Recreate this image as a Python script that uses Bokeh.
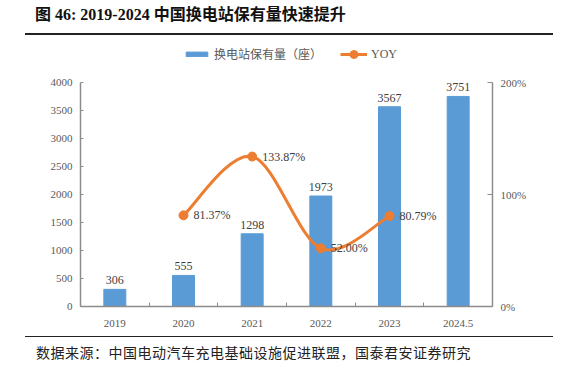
from bokeh.plotting import figure
from bokeh.models import (Range1d, LinearAxis, FixedTicker, Legend, LegendItem, Div)
from bokeh.layouts import column
from bokeh.core.properties import value
from bokeh.embed import file_html
from bokeh.resources import INLINE

categories = ["2019", "2020", "2021", "2022", "2023", "2024.5"]
stations = [306, 555, 1298, 1973, 3567, 3751]
yoy_years = ["2020", "2021", "2022", "2023"]
yoy = [81.37, 133.87, 52.00, 80.79]
left_ticks = [0, 500, 1000, 1500, 2000, 2500, 3000, 3500, 4000]
right_ticks = [0, 100, 200]
title_text = "图 46: 2019-2024 中国换电站保有量快速提升"
source_text = "数据来源：中国电动汽车充电基础设施促进联盟，国泰君安证券研究"
bar_name = "换电站保有量（座）"
line_name = "YOY"

BLUE = "#5B9BD5"
ORANGE = "#ED7D31"
AXIS = "#8C8C8C"
TXT = "#595959"
SERIF = "Liberation Serif"
CJK = "Noto Sans CJK SC"

# layout: the plot frame reaches up into the legend area; axes are bounded
FIG_H = 301
BORDER_BOTTOM = 30
FRAME_H = FIG_H - BORDER_BOTTOM
AXIS_PX = 224  # pixel length of the 0..4000 axis
left_max, right_max = left_ticks[-1], right_ticks[-1]
y_top = left_max * FRAME_H / AXIS_PX
y2_top = right_max * FRAME_H / AXIS_PX

xc = [i + 0.5 for i in range(len(categories))]
yx = [categories.index(y) + 0.5 for y in yoy_years]

p = figure(width=564, height=FIG_H, output_backend="svg", toolbar_location=None,
           x_range=Range1d(0, len(categories)), y_range=Range1d(0, y_top),
           min_border_left=80, min_border_right=72, min_border_top=0,
           min_border_bottom=BORDER_BOTTOM)
p.outline_line_color = None
p.grid.visible = False
p.background_fill_color = "white"
p.border_fill_color = "white"

p.extra_y_ranges = {"yoy": Range1d(0, y2_top)}

# axes
xa = p.xaxis[0]
xa.ticker = FixedTicker(ticks=xc, minor_ticks=list(range(len(categories) + 1)))
xa.major_label_overrides = {x: c for x, c in zip(xc, categories)}
xa.major_tick_line_color = None
xa.minor_tick_in = 4
xa.minor_tick_out = 0
xa.minor_tick_line_color = AXIS
xa.axis_line_color = AXIS
xa.axis_line_width = 1.5
xa.major_label_text_font = SERIF
xa.major_label_text_font_size = "11px"
xa.major_label_text_color = TXT
xa.major_label_standoff = 7

ya = p.yaxis[0]
ya.ticker = FixedTicker(ticks=left_ticks)
ya.bounds = (0, left_max)
ya.major_tick_in = 3
ya.major_tick_out = 0
ya.minor_tick_line_color = None
ya.major_tick_line_color = AXIS
ya.axis_line_color = AXIS
ya.axis_line_width = 1.5
ya.major_label_text_font = SERIF
ya.major_label_text_font_size = "11px"
ya.major_label_text_color = TXT
ya.major_label_standoff = 8

ra = LinearAxis(y_range_name="yoy", ticker=FixedTicker(ticks=right_ticks),
                bounds=(0, right_max))
ra.major_label_overrides = {t: f"{t}%" for t in right_ticks}
ra.major_tick_in = 5
ra.major_tick_out = 0
ra.minor_tick_line_color = None
ra.major_tick_line_color = AXIS
ra.axis_line_color = AXIS
ra.axis_line_width = 1.5
ra.major_label_text_font = SERIF
ra.major_label_text_font_size = "11px"
ra.major_label_text_color = TXT
ra.major_label_standoff = 8
p.add_layout(ra, "right")

# bars
bars = p.vbar(x=xc, top=stations, width=0.32, fill_color=BLUE, line_color=BLUE)
p.text(x=xc, y=stations, text=[str(v) for v in stations], text_align="center",
       text_baseline="bottom", y_offset=-5, text_font=value(SERIF),
       text_font_size="12px", text_color="#404040")

# smoothed YOY line (Bezier segments, like the source's smoothed line)
n = len(yoy)
x0s, y0s, x1s, y1s, cx0, cy0, cx1, cy1 = [], [], [], [], [], [], [], []
for i in range(n - 1):
    pa = max(i - 1, 0)
    pd = min(i + 2, n - 1)
    x0s.append(yx[i]); y0s.append(yoy[i])
    x1s.append(yx[i + 1]); y1s.append(yoy[i + 1])
    cx0.append(yx[i] + (yx[i + 1] - yx[pa]) / 6)
    cy0.append(yoy[i] + (yoy[i + 1] - yoy[pa]) / 6)
    cx1.append(yx[i + 1] - (yx[pd] - yx[i]) / 6)
    cy1.append(yoy[i + 1] - (yoy[pd] - yoy[i]) / 6)
curve = p.bezier(x0=x0s, y0=y0s, x1=x1s, y1=y1s, cx0=cx0, cy0=cy0, cx1=cx1, cy1=cy1,
                 line_color=ORANGE, line_width=3, y_range_name="yoy")
dots = p.scatter(x=yx, y=yoy, size=9, fill_color=ORANGE, line_color=ORANGE,
                 y_range_name="yoy")
p.text(x=yx, y=yoy, text=[f"{v:.2f}%" for v in yoy], text_align="left",
       text_baseline="middle", x_offset=10, text_font=value(SERIF),
       text_font_size="12px", text_color="#404040", y_range_name="yoy")

# legends (two, so the bar key stays thin while the line key shows its dot)
common = dict(orientation="horizontal", glyph_width=27, label_standoff=4,
              padding=0, margin=0, border_line_color=None, background_fill_alpha=0,
              label_text_font_size="12px", label_text_color=TXT)
leg1 = Legend(items=[LegendItem(label=bar_name, renderers=[bars])],
              location=(103, 244), glyph_height=6, label_text_font=CJK, **common)
leg2 = Legend(items=[LegendItem(label=line_name, renderers=[curve, dots])],
              location=(260, 242), glyph_height=20, label_text_font=SERIF, **common)
p.add_layout(leg1, "center")
p.add_layout(leg2, "center")

title_div = Div(
    text=f'<div style="font-family:\'{SERIF}\',\'{CJK}\';font-weight:bold;'
         f'font-size:16px;color:#111;line-height:30px;padding-left:10px;'
         f'white-space:nowrap;">{title_text}</div>',
    width=528, height=35, margin=(0, 0, 0, 25),
    styles={"border-bottom": "2px solid #222", "box-sizing": "border-box"})

source_div = Div(
    text=f'<div style="font-family:\'{CJK}\';font-size:14px;letter-spacing:0.5px;'
         f'color:#222;line-height:30px;padding-left:11px;white-space:nowrap;">'
         f'{source_text}</div>',
    width=528, height=38, margin=(0, 0, 0, 25),
    styles={"border-top": "1.5px solid #222", "box-sizing": "border-box"})

layout = column(title_div, p, source_div, spacing=0)

open("out.html", "w").write(file_html(layout, INLINE))
